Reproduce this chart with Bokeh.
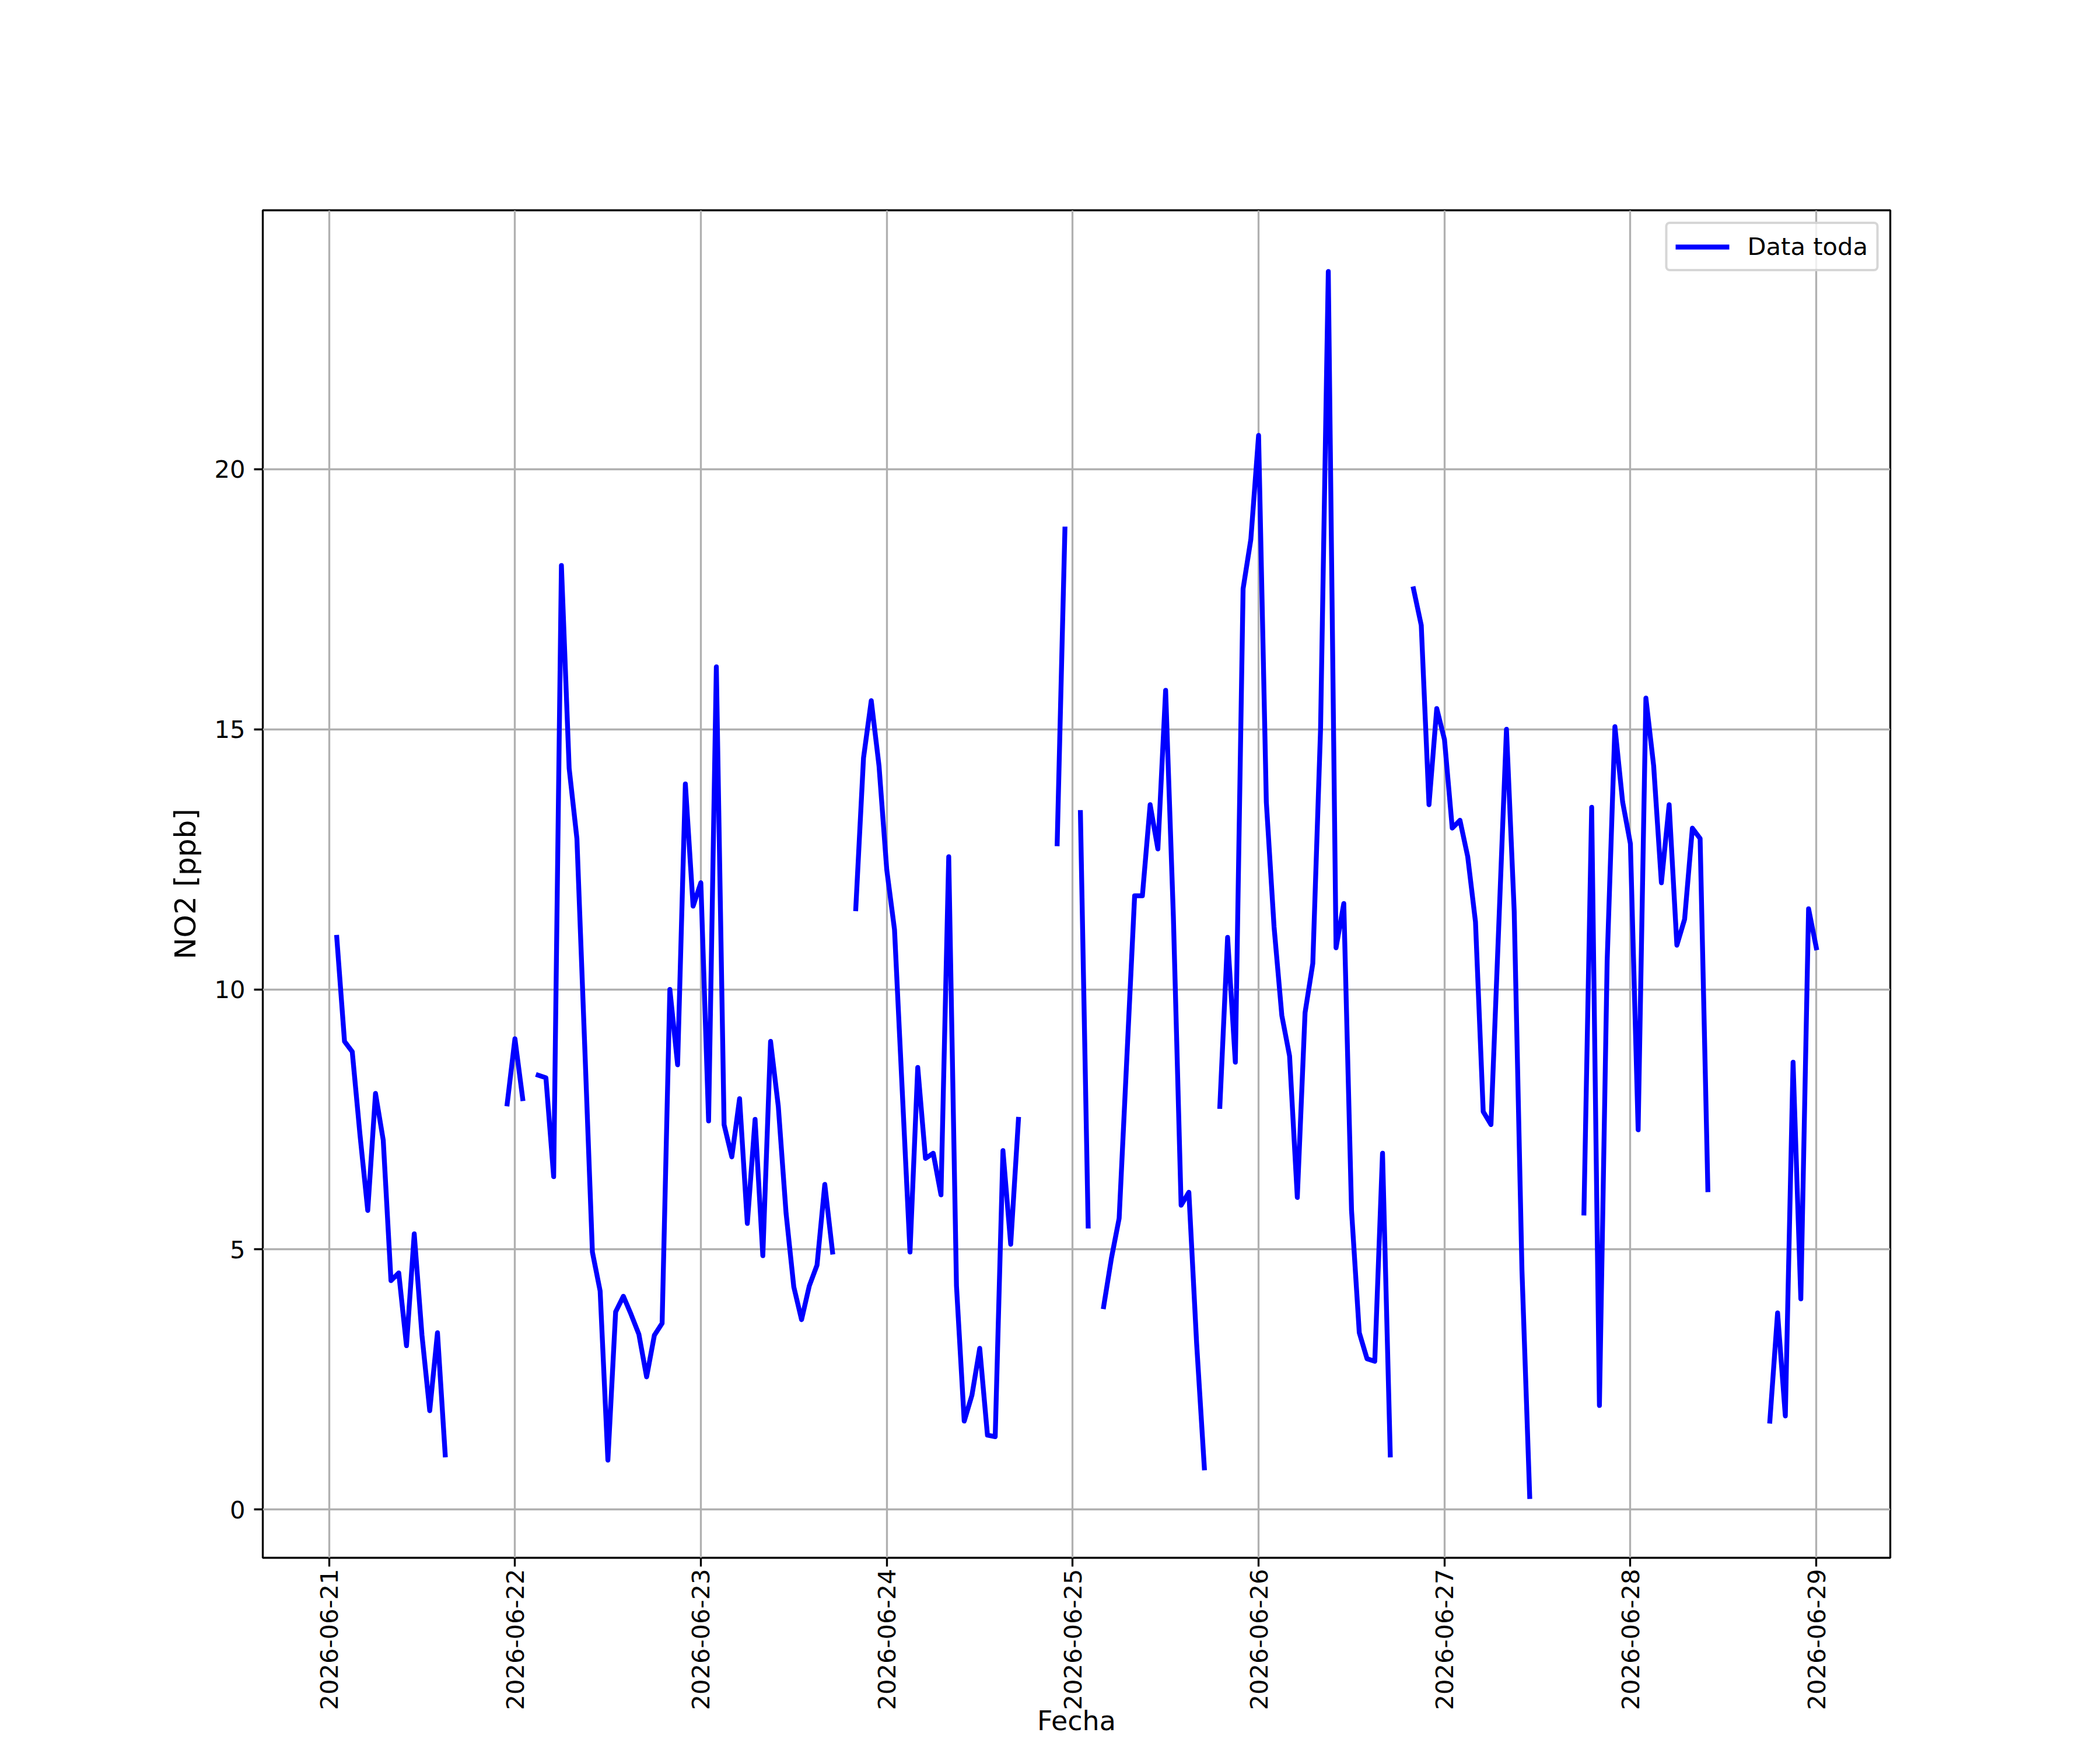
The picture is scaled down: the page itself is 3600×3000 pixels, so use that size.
import math
import numpy as np
import pandas as pd
from bokeh.plotting import figure
from bokeh.models import (ColumnDataSource, Range1d, DaysTicker, DatetimeTickFormatter,
                          SingleIntervalTicker, Legend)
from bokeh.embed import file_html
from bokeh.resources import INLINE

n = float("nan")

# hourly NO2 series, starting 2026-06-21 01:00 (NaN = missing)
start_time = "2026-06-21 01:00"
no2_day21 = [11.0, 9.0, 8.8, 7.2, 5.75, 8.0, 7.1, 4.4, 4.55, 3.15, 5.3, 3.35, 1.9, 3.4, 1.05,
             n, n, n, n, n, n, n, 7.8, 9.05]
no2_day22 = [7.9, n, 8.35, 8.3, 6.4, 18.15, 14.25, 12.9, 8.95, 4.95, 4.2, 0.95, 3.8, 4.1, 3.75,
             3.37, 2.55, 3.35, 3.58, 10.0, 8.55, 13.95, 11.6, 12.05]
no2_day23 = [7.47, 16.2, 7.4, 6.78, 7.9, 5.5, 7.5, 4.88, 9.0, 7.75, 5.7, 4.28, 3.65, 4.3, 4.7,
             6.25, 4.95, n, n, 11.55, 14.45, 15.55, 14.3, 12.3]
no2_day24 = [11.15, 8.05, 4.95, 8.5, 6.75, 6.85, 6.05, 12.55, 4.3, 1.7, 2.2, 3.1, 1.43, 1.4, 6.9,
             5.1, 7.5, n, n, n, n, 12.8, 18.85, n]
no2_day25 = [13.4, 5.45, n, 3.9, 4.83, 5.6, 8.7, 11.8, 11.8, 13.55, 12.7, 15.75, 11.4, 5.85, 6.1,
             3.2, 0.8, n, 7.75, 11.0, 8.6, 17.7, 18.65, 20.65]
no2_day26 = [13.6, 11.2, 9.5, 8.72, 6.0, 9.55, 10.5, 15.0, 23.8, 10.8, 11.65, 5.75, 3.4, 2.9, 2.85,
             6.85, 1.05, n, n, 17.7, 17.0, 13.55, 15.4, 14.8]
no2_day27 = [13.1, 13.25, 12.55, 11.3, 7.65, 7.4, 11.2, 15.0, 11.5, 4.6, 0.25, n, n, n, n,
             n, n, 5.7, 13.5, 2.0, 10.55, 15.05, 13.6, 12.8]
no2_day28 = [7.3, 15.6, 14.3, 12.05, 13.55, 10.85, 11.35, 13.1, 12.9, 6.15, n, n, n, n, n,
             n, n, 1.7, 3.78, 1.8, 8.6, 4.05, 11.55, 10.8]

series_label = "Data toda"
x_label = "Fecha"
y_label = "NO2 [ppb]"
date_format = "%Y-%m-%d"

no2 = np.array(no2_day21 + no2_day22 + no2_day23 + no2_day24 +
               no2_day25 + no2_day26 + no2_day27 + no2_day28, dtype=float)
times = pd.date_range(start_time, periods=len(no2), freq="h")
t_ms = times.asi8 / 1e6

t0, t1 = t_ms[0], t_ms[-1]
xpad = 0.05 * (t1 - t0)
vmin, vmax = np.nanmin(no2), np.nanmax(no2)
ypad = 0.05 * (vmax - vmin)
x_start, x_end = t0 - xpad, t1 + xpad
y_start, y_end = vmin - ypad, vmax + ypad

FONT = "DejaVu Sans"
TICK_PX = "41.67px"
LW = 3.33

p = figure(width=3584, height=2984, x_axis_type="datetime",
           x_range=Range1d(x_start, x_end), y_range=Range1d(y_start, y_end),
           output_backend="svg", toolbar_location=None, title=None,
           min_border_left=450, min_border_right=344, min_border_top=360, min_border_bottom=314)
p.background_fill_color = "white"
p.border_fill_color = "white"
p.outline_line_color = "black"
p.outline_line_width = LW

src = ColumnDataSource(dict(t=t_ms, v=no2))
p.line("t", "v", source=src, line_color="#0000ff", line_width=8.33,
       line_join="round", line_cap="square", legend_label=series_label)

p.xaxis.ticker = DaysTicker(days=list(range(1, 32)))
p.xaxis.formatter = DatetimeTickFormatter(days=date_format, months=date_format, hours=date_format,
                                          years=date_format, hourmin=date_format)
p.xaxis.major_label_orientation = math.pi / 2
p.yaxis.ticker = SingleIntervalTicker(interval=5, num_minor_ticks=0)

for ax in (p.xaxis, p.yaxis):
    ax.axis_line_color = None
    ax.major_tick_line_color = "black"
    ax.major_tick_line_width = LW
    ax.major_tick_out = 15
    ax.major_tick_in = 0
    ax.minor_tick_line_color = None
    ax.major_label_text_font = FONT
    ax.major_label_text_font_size = TICK_PX
    ax.major_label_text_color = "black"
    ax.axis_label_text_font = FONT
    ax.axis_label_text_font_style = "normal"
    ax.axis_label_text_color = "black"

p.yaxis.major_label_standoff = 15
p.yaxis.axis_label = y_label
p.yaxis.axis_label_text_font_size = "50px"
p.yaxis.axis_label_standoff = 17

p.xaxis.major_label_standoff = 4
p.xaxis.axis_label = x_label
p.xaxis.axis_label_text_font_size = "46px"
p.xaxis.axis_label_standoff = -12

for g in (p.xgrid, p.ygrid):
    g.grid_line_color = "#b0b0b0"
    g.grid_line_width = LW
p.xgrid.ticker = p.xaxis[0].ticker
p.ygrid.ticker = p.yaxis[0].ticker

lg = p.legend[0]
lg.location = "top_right"
lg.margin = 20
lg.padding = 14
lg.spacing = 0
lg.label_standoff = 31
lg.glyph_width = 92
lg.glyph_height = 48
lg.label_height = 48
lg.label_text_font = FONT
lg.label_text_font_size = TICK_PX
lg.label_text_color = "black"
lg.border_line_color = "#cccccc"
lg.border_line_width = 4
lg.border_line_alpha = 0.8
lg.background_fill_color = "white"
lg.background_fill_alpha = 0.8
if "border_radius" in Legend.properties():
    lg.border_radius = 8

open("out.html", "w").write(file_html(p, INLINE))
